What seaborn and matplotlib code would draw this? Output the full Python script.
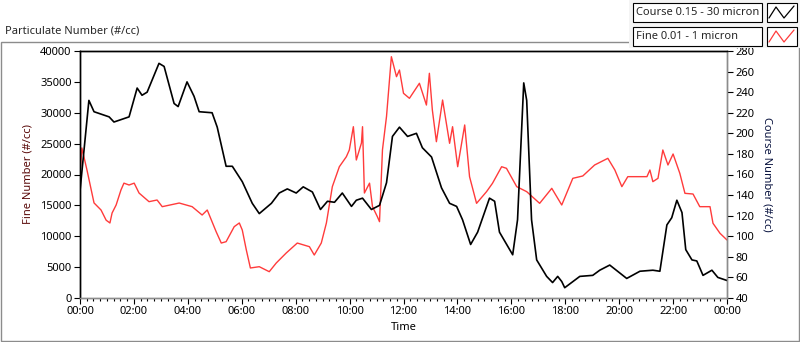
import matplotlib
matplotlib.use("Agg")
import matplotlib.pyplot as plt
import seaborn as sns
from matplotlib.lines import Line2D
from matplotlib.patches import Rectangle
from matplotlib.ticker import FuncFormatter, MultipleLocator

# Course 0.15 - 30 micron (right axis), time in hours
course_hours = [0.0, 0.33, 0.52, 1.08, 1.26, 1.82, 2.12, 2.30, 2.49, 2.93, 3.12, 3.49, 3.64,
                3.97, 4.23, 4.42, 4.90, 5.09, 5.42, 5.65, 6.02, 6.39, 6.65, 7.10, 7.39, 7.69,
                8.02, 8.28, 8.62, 8.92, 9.18, 9.44, 9.73, 10.07, 10.25, 10.48, 10.81, 11.11,
                11.37, 11.59, 11.85, 12.15, 12.48, 12.70, 13.04, 13.41, 13.71, 13.97, 14.19,
                14.49, 14.75, 15.19, 15.38, 15.56, 16.05, 16.23, 16.46, 16.57, 16.75, 16.94,
                17.31, 17.53, 17.72, 17.87, 17.98, 18.54, 19.02, 19.28, 19.65, 20.28, 20.77,
                21.25, 21.51, 21.77, 21.95, 22.14, 22.33, 22.47, 22.70, 22.88, 23.11, 23.44,
                23.66, 24.0]
course_values = [144, 232, 221, 216, 211, 216, 244, 237, 240, 268, 265, 229, 226,
                 250, 236, 221, 220, 206, 168, 168, 153, 132, 122, 132, 142, 146,
                 142, 148, 143, 126, 134, 133, 142, 129, 135, 137, 126, 130,
                 152, 197, 206, 197, 200, 186, 177, 147, 132, 129, 116,
                 92, 104, 137, 134, 104, 82, 116, 249, 232, 116, 77,
                 61, 55, 61, 56, 50, 61, 62, 67, 72, 59, 66,
                 67, 66, 111, 118, 135, 123, 87, 77, 76, 62, 67,
                 60, 57]

# Fine 0.01 - 1 micron (left axis)
fine_hours = [0.0, 0.07, 0.26, 0.52, 0.78, 0.97, 1.11, 1.19, 1.34, 1.52, 1.63, 1.82, 2.01,
              2.19, 2.56, 2.86, 3.05, 3.68, 4.16, 4.53, 4.72, 5.05, 5.24, 5.42, 5.72, 5.91,
              6.02, 6.17, 6.32, 6.65, 7.02, 7.28, 7.65, 8.06, 8.51, 8.69, 8.95, 9.14, 9.36,
              9.62, 9.88, 9.99, 10.14, 10.25, 10.44, 10.48, 10.55, 10.74, 10.85, 11.03,
              11.11, 11.22, 11.37, 11.55, 11.74, 11.85, 12.00, 12.22, 12.59, 12.85, 12.96,
              13.07, 13.22, 13.45, 13.71, 13.82, 14.01, 14.27, 14.45, 14.71, 15.08, 15.30,
              15.64, 15.82, 16.20, 16.57, 17.05, 17.50, 17.87, 18.28, 18.65, 19.09, 19.58,
              19.84, 20.10, 20.32, 21.03, 21.14, 21.25, 21.44, 21.62, 21.81, 22.00, 22.25,
              22.44, 22.74, 22.99, 23.37, 23.48, 23.74, 24.0]
fine_values = [20000, 24300, 20700, 15400, 14250, 12600, 12150, 13760, 15060, 17500, 18600,
               18300, 18600, 17000, 15600, 15870, 14790, 15380, 14790, 13440, 14250, 10740,
               8900, 9120, 11550, 12150, 11000, 7770, 4860, 5070, 4260, 5670, 7290, 8900,
               8310, 6960, 8900, 12150, 18030, 21260, 22880, 23970, 27740, 22350, 25100,
               27740, 17000, 18600, 14790, 13170, 12360, 24000, 29400, 39080, 35840, 36920,
               33150, 32340, 34770, 31250, 36390, 30450, 25310, 32060, 25050, 27740, 21260,
               28020, 19650, 15330, 17220, 18570, 21260, 21000, 18030, 17220, 15330, 17760,
               15060, 19380, 19760, 21540, 22620, 20730, 18030, 19650, 19650, 20730, 18840,
               19380, 23970, 21540, 23320, 20190, 16950, 16840, 14790, 14790, 12100, 10480,
               9390]

W, H = 800, 342
FS = 8
sns.set_theme(style="white")
plt.rcParams['font.family'] = ['Noto Sans', 'DejaVu Sans']
plt.rcParams['font.size'] = FS

fig = plt.figure(figsize=(W / 100, H / 100), dpi=100)


def fx(x):
    return x / W


def fy(y):
    return 1 - y / H


# outer panel frame
fig.add_artist(Rectangle((fx(1), fy(341)), fx(798), 299 / H, transform=fig.transFigure,
                         fill=False, edgecolor="#8c8c8c", linewidth=1))
fig.text(fx(5), fy(31), "Particulate Number (#/cc)", fontsize=FS, va="center", ha="left")

ax = fig.add_axes([fx(80), fy(298), fx(647), 247 / H])
ax2 = ax.twinx()

sns.lineplot(x=fine_hours, y=fine_values, ax=ax, color="#ff3b3b", linewidth=1.0,
             estimator=None, sort=False)
sns.lineplot(x=course_hours, y=course_values, ax=ax2, color="black", linewidth=1.2,
             estimator=None, sort=False)

ax.set_xlim(0, 24)
ax.set_ylim(0, 40000)
ax2.set_ylim(40, 280)
ax.yaxis.set_major_locator(MultipleLocator(5000))
ax2.yaxis.set_major_locator(MultipleLocator(20))
ax.xaxis.set_major_locator(MultipleLocator(2))
ax.xaxis.set_minor_locator(MultipleLocator(0.25))
ax.xaxis.set_major_formatter(FuncFormatter(lambda v, p: "%02d:00" % (int(round(v)) % 24)))

for a in (ax, ax2):
    a.tick_params(axis="both", which="major", direction="out", length=4, width=0.8,
                  colors="black", labelsize=FS, pad=2)
    a.tick_params(axis="x", which="minor", direction="out", length=2, width=0.8,
                  colors="black", bottom=True)
    a.grid(False)

ax.tick_params(axis="y", left=True)
ax2.tick_params(axis="y", right=True)
ax.tick_params(axis="x", bottom=True)

for a in (ax, ax2):
    a.spines["top"].set_color("black")
    a.spines["left"].set_color("black")
    a.spines["bottom"].set_color("#8c8c8c")
    a.spines["right"].set_color("#8c8c8c")
    for s in a.spines.values():
        s.set_linewidth(1.0)

ax.set_xlabel("Time", fontsize=FS, color="black", labelpad=3)
ax.set_ylabel("Fine Number (#/cc)", fontsize=FS, color="#5a0a0a", labelpad=5)
ax2.set_ylabel("Course Number (#/cc)", fontsize=FS, color="#0a1440", rotation=270,
               labelpad=13)

# legend panel at top right
fig.add_artist(Rectangle((fx(629), fy(48)), fx(171), 48 / H, transform=fig.transFigure,
                         facecolor="#f4f4f4", edgecolor="none"))
legend_items = [("Course 0.15 - 30 micron", "black", 3, 22),
                ("Fine 0.01 - 1 micron", "#ff3b3b", 27, 46)]
for label, col, y0, y1 in legend_items:
    fig.add_artist(Rectangle((fx(633), fy(y1)), fx(129), (y1 - y0) / H,
                             transform=fig.transFigure, facecolor="white",
                             edgecolor="black", linewidth=0.8))
    fig.add_artist(Rectangle((fx(767), fy(y1)), fx(30), (y1 - y0) / H,
                             transform=fig.transFigure, facecolor="white",
                             edgecolor="black", linewidth=0.8))
    fig.text(fx(636), fy((y0 + y1) / 2), label, fontsize=FS, va="center", ha="left")
    xs = [769, 776, 784, 794]
    ys = [y1 - 4, y0 + 4, y1 - 4, y0 + 3]
    fig.add_artist(Line2D([fx(v) for v in xs], [fy(v) for v in ys],
                          transform=fig.transFigure, color=col, linewidth=0.9))

fig.savefig("out.png", dpi=100)
